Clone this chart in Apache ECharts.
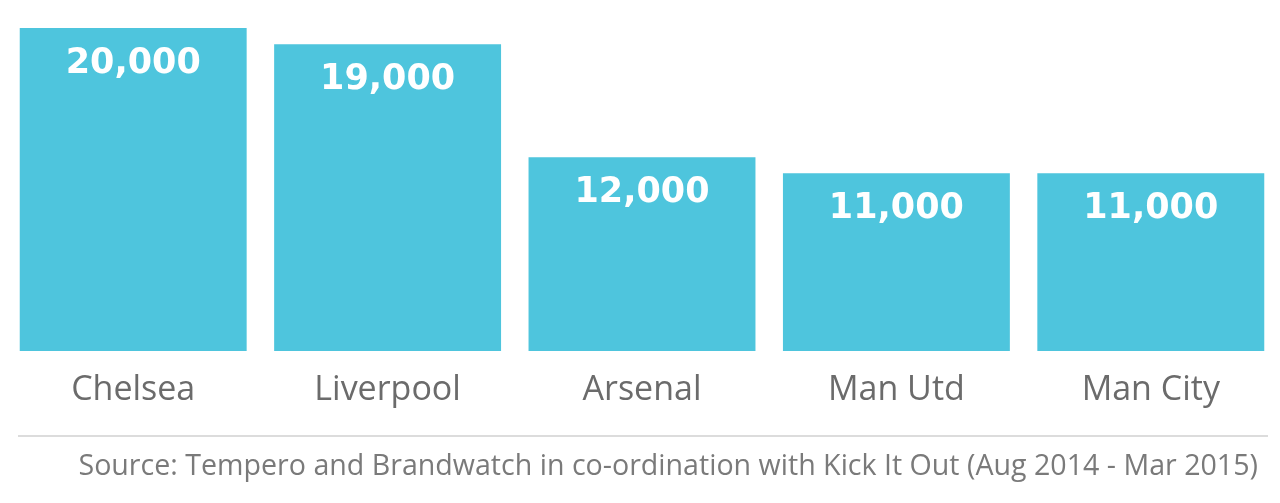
<!DOCTYPE html>
<html>
<head>
<meta charset="utf-8">
<script src="https://cdn.jsdelivr.net/npm/echarts@6/dist/echarts.min.js"></script>
<style>
  html, body { margin: 0; padding: 0; background: #fff; }
  #chart { width: 1280px; height: 503px; }
</style>
</head>
<body>
<div id="chart"></div>
<script>
var clubs = ['Chelsea', 'Liverpool', 'Arsenal', 'Man Utd', 'Man City'];
var abuse = [20000, 19000, 12000, 11000, 11000];
var source = 'Source: Tempero and Brandwatch in co-ordination with Kick It Out (Aug 2014 - Mar 2015)';

var myChart = echarts.init(document.getElementById('chart'));
var option = {
    animation: false,
    grid: { left: 6, right: 2, top: 28, bottom: 152 },
    xAxis: {
        type: 'category',
        data: clubs,
        axisLine: { show: false },
        axisTick: { show: false },
        axisLabel: {
            fontFamily: 'Open Sans',
            fontSize: 34,
            color: '#6b6b6b',
            margin: 22
        }
    },
    yAxis: {
        type: 'value',
        min: 0,
        max: 20000,
        show: false,
        splitLine: { show: false }
    },
    series: [{
        type: 'bar',
        data: abuse,
        barCategoryGap: '10.8%',
        itemStyle: { color: '#4ec5dd' },
        label: {
            show: true,
            position: 'insideTop',
            distance: 18,
            color: '#fff',
            fontFamily: 'DejaVu Sans',
            fontWeight: 'bold',
            fontSize: 35,
            formatter: function (p) { return p.value.toLocaleString('en-US'); }
        }
    }],
    graphic: [
        {
            type: 'line',
            shape: { x1: 18, y1: 436, x2: 1268, y2: 436 },
            style: { stroke: '#dcdcdc', lineWidth: 2 }
        },
        {
            type: 'text',
            style: {
                x: 1258,
                y: 467,
                align: 'right',
                verticalAlign: 'middle',
                text: source,
                fontFamily: 'Open Sans',
                fontSize: 28.6,
                fill: '#7a7a7a'
            }
        }
    ]
};
myChart.setOption(option);
</script>
</body>
</html>
